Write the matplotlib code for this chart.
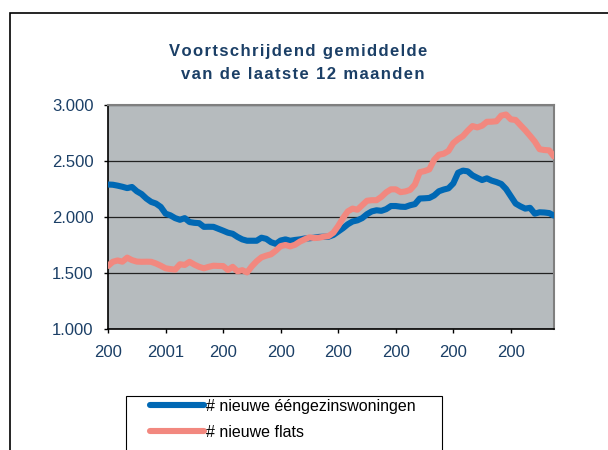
import matplotlib
matplotlib.use('Agg')
import matplotlib.pyplot as plt
from matplotlib.patches import Rectangle
from matplotlib.lines import Line2D

# Maandelijkse waarden (voortschrijdend 12-maands gemiddelde), jan 2000 - okt 2007
eengezins = [2290, 2288, 2280, 2270, 2258, 2268, 2230, 2205, 2165, 2135,
             2120, 2090, 2030, 2015, 1990, 1975, 1990, 1955, 1948, 1945,
             1912, 1913, 1912, 1895, 1878, 1860, 1850, 1822, 1800, 1788,
             1788, 1788, 1815, 1805, 1775, 1760, 1790, 1800, 1788, 1795,
             1800, 1808, 1810, 1815, 1822, 1824, 1824, 1840, 1870, 1900,
             1935, 1960, 1970, 1990, 2025, 2050, 2060, 2055, 2070, 2098,
             2098, 2092, 2090, 2105, 2115, 2165, 2167, 2170, 2192, 2230,
             2245, 2256, 2300, 2395, 2414, 2408, 2372, 2350, 2330, 2345,
             2325, 2312, 2295, 2250, 2185, 2120, 2095, 2075, 2082, 2030,
             2042, 2040, 2035, 2012]
flats = [1563, 1600, 1612, 1601, 1637, 1615, 1602, 1600, 1601, 1600,
         1585, 1565, 1542, 1535, 1530, 1578, 1572, 1600, 1575, 1555,
         1542, 1555, 1565, 1563, 1562, 1527, 1555, 1515, 1525, 1505,
         1560, 1605, 1640, 1655, 1667, 1700, 1740, 1750, 1738, 1752,
         1780, 1800, 1818, 1812, 1815, 1824, 1830, 1860, 1920, 1990,
         2050, 2075, 2065, 2105, 2145, 2150, 2150, 2180, 2220, 2247,
         2247, 2222, 2228, 2242, 2290, 2400, 2410, 2425, 2510, 2556,
         2565, 2590, 2660, 2695, 2722, 2770, 2812, 2800, 2815, 2850,
         2851, 2855, 2905, 2915, 2872, 2866, 2820, 2775, 2725, 2673,
         2605, 2598, 2595, 2540]
maanden = list(range(len(eengezins)))

x_ticks = [0, 12, 24, 36, 48, 60, 72, 84]
x_labels = ['200', '2001', '200', '200', '200', '200', '200', '200']
y_ticks = [1000, 1500, 2000, 2500, 3000]
y_labels = ['1.000', '1.500', '2.000', '2.500', '3.000']

titel_1 = 'Voortschrijdend gemiddelde'
titel_2 = ' van de laatste 12 maanden'
lab_blauw = '# nieuwe ééngezinswoningen'
lab_rood = '# nieuwe flats'

BLAUW = '#0068B4'
ROOD = '#F2887F'
NAVY = '#1B3F66'


def gespatieerd(tekst):
    # Excel-titel heeft extra letterafstand: haarspatie tussen de tekens
    return '\u200a'.join(tekst)


plt.rcParams['font.family'] = ['Liberation Sans', 'DejaVu Sans']

fig = plt.figure(figsize=(6.08, 4.5), dpi=100)

# kader om de hele grafiek
fig.patches.append(Rectangle((10 / 608, -0.1), 1.2, 1 - 13 / 450 + 0.1,
                             transform=fig.transFigure, fill=False,
                             edgecolor='black', linewidth=1.2))
# kader van de legenda (loopt onder de rand door)
fig.patches.append(Rectangle((126 / 608, -0.1), 316 / 608, 1 - 396 / 450 + 0.1,
                             transform=fig.transFigure, fill=False,
                             edgecolor='black', linewidth=0.8))

ax = fig.add_axes([108 / 608, 121 / 450, 446 / 608, 224 / 450])
ax.set_facecolor('#B6BBBE')

ax.plot(maanden, eengezins, color=BLAUW, linewidth=4.4, solid_capstyle='round', zorder=3)
ax.plot(maanden, flats, color=ROOD, linewidth=4.4, solid_capstyle='round', zorder=3)

ax.set_xlim(0, 93)
ax.set_ylim(1000, 3000)
ax.set_xticks(x_ticks)
ax.set_xticklabels(x_labels)
ax.set_yticks(y_ticks)
ax.set_yticklabels(y_labels)
ax.tick_params(axis='both', colors='black', labelcolor=NAVY, labelsize=12,
               length=3, width=1, direction='out')
ax.tick_params(axis='y', pad=7.5)
ax.tick_params(axis='x', pad=8.5)

ax.grid(True, axis='y', color='#222222', linewidth=0.9)
ax.set_axisbelow(True)
for side in ['top', 'right']:
    ax.spines[side].set_color('#7F7F7F')
    ax.spines[side].set_linewidth(1.5)
for side in ['left', 'bottom']:
    ax.spines[side].set_color('black')
    ax.spines[side].set_linewidth(1.2)

fig.text(298 / 608, 1 - 56 / 450, gespatieerd(titel_1), ha='center', va='baseline',
         fontsize=12, fontweight='bold', color=NAVY)
fig.text(300 / 608, 1 - 79 / 450, gespatieerd(titel_2), ha='center', va='baseline',
         fontsize=12, fontweight='bold', color=NAVY)

handles = [Line2D([], [], color=BLAUW, linewidth=4.4, solid_capstyle='round'),
           Line2D([], [], color=ROOD, linewidth=4.4, solid_capstyle='round')]
leg = fig.legend(handles, [lab_blauw, lab_rood], loc='upper left',
                 bbox_to_anchor=(150 / 608, 1 - 399 / 450),
                 fontsize=11.5, frameon=False, borderaxespad=0, borderpad=0,
                 handlelength=3.4, handletextpad=0.12, labelspacing=0.68)

fig.savefig('out.png', dpi=100)
